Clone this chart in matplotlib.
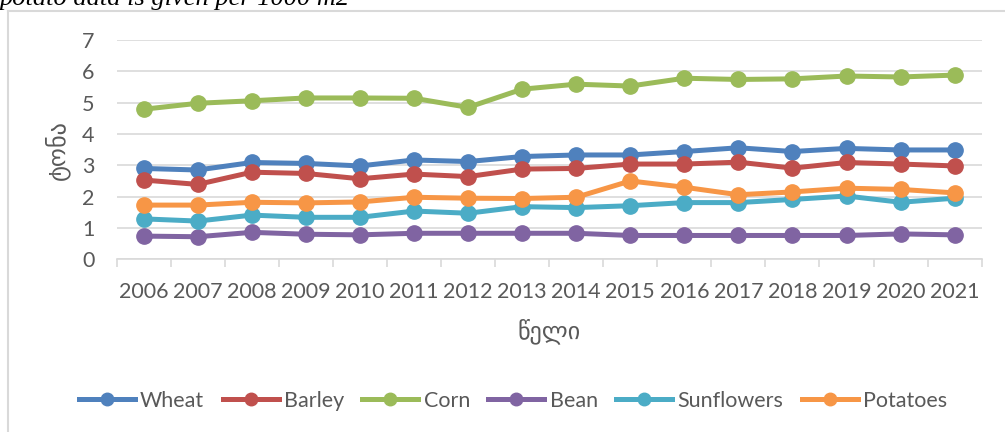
import matplotlib
matplotlib.use("Agg")
import matplotlib.pyplot as plt
from matplotlib.lines import Line2D

years = list(range(2006, 2022))
wheat = [2.90, 2.85, 3.09, 3.06, 2.98, 3.17, 3.12, 3.28, 3.33, 3.33, 3.44, 3.56, 3.44, 3.54, 3.49, 3.49]
barley = [2.53, 2.39, 2.78, 2.74, 2.57, 2.72, 2.64, 2.88, 2.90, 3.04, 3.04, 3.10, 2.91, 3.09, 3.04, 2.98]
corn = [4.79, 4.98, 5.06, 5.15, 5.15, 5.14, 4.85, 5.43, 5.59, 5.53, 5.78, 5.74, 5.76, 5.85, 5.82, 5.88]
bean = [0.74, 0.72, 0.86, 0.80, 0.78, 0.83, 0.83, 0.83, 0.83, 0.76, 0.76, 0.76, 0.76, 0.76, 0.81, 0.78]
sunflowers = [1.29, 1.22, 1.41, 1.34, 1.34, 1.54, 1.47, 1.68, 1.65, 1.71, 1.81, 1.81, 1.91, 2.02, 1.82, 1.95]
potatoes = [1.73, 1.73, 1.82, 1.80, 1.83, 1.98, 1.95, 1.94, 1.98, 2.50, 2.30, 2.06, 2.15, 2.27, 2.23, 2.12]

names = ["Wheat", "Barley", "Corn", "Bean", "Sunflowers", "Potatoes"]
series = [wheat, barley, corn, bean, sunflowers, potatoes]
colors = ["#4F81BD", "#C0504D", "#9BBB59", "#8064A2", "#4BACC6", "#F79646"]

txt = "#595959"
grid = "#D9D9D9"
font = ["Lato", "DejaVu Sans"]
fs = 15.5

fig = plt.figure(figsize=(10.05, 4.32), dpi=100)
ax = fig.add_axes([0.1161, 0.3998, 0.8607, 0.5076])

x = list(range(len(years)))
for vals, c, n in zip(series, colors, names):
    ax.plot(x, vals, color=c, lw=3.6, marker="o", ms=11, label=n, zorder=3)

ax.set_xlim(-0.5, len(years) - 0.5)
ax.set_ylim(0, 7)
ax.set_yticks(range(0, 8))
ax.set_xticks(x)
ax.set_xticklabels([str(y) for y in years])
ax.set_xticks([i - 0.5 for i in range(len(years) + 1)], minor=True)
ax.grid(axis="y", color=grid, lw=1.2)
ax.set_axisbelow(True)
for s in ["top", "right", "left"]:
    ax.spines[s].set_visible(False)
ax.spines["bottom"].set_color(grid)
ax.spines["bottom"].set_linewidth(1.2)
ax.tick_params(axis="x", which="major", length=0, pad=16)
ax.tick_params(axis="x", which="minor", length=6, color=grid, width=1.2)
ax.tick_params(axis="y", length=0, pad=16)
for lab in ax.get_xticklabels() + ax.get_yticklabels():
    lab.set_family(font)
    lab.set_fontsize(fs)
    lab.set_color(txt)

fig.text(549 / 1005, 1 - 331 / 432, "წელი", ha="center", va="center",
         fontsize=17.5, color=txt, family=font)
fig.text(57 / 1005, 1 - 150 / 432, "ტონა", ha="center", va="center",
         rotation=90, fontsize=17.5, color=txt, family=font)

handles = [Line2D([], [], color=c, lw=3.6, marker="o", ms=9) for c in colors]
leg = fig.legend(handles, names, loc="center", bbox_to_anchor=(513 / 1005, 1 - 401 / 432),
                 ncol=6, frameon=False, handlelength=2.6, handletextpad=0.25,
                 columnspacing=0.85, prop={"family": font, "size": fs})
for t in leg.get_texts():
    t.set_color(txt)

# chart frame (left and top edges visible)
fig.add_artist(Line2D([8 / 1005, 8 / 1005], [0, 1 - 10.5 / 432], color=grid, lw=1.5,
                      transform=fig.transFigure))
fig.add_artist(Line2D([8 / 1005, 1], [1 - 10.5 / 432, 1 - 10.5 / 432], color=grid, lw=1.5,
                      transform=fig.transFigure))

fig.text(0.0, 1 - 5 / 432, "potato data is given per 1000 m2", ha="left", va="baseline",
         fontsize=19, style="italic", family="Liberation Serif", color="black")

fig.savefig("out.png", dpi=100)
